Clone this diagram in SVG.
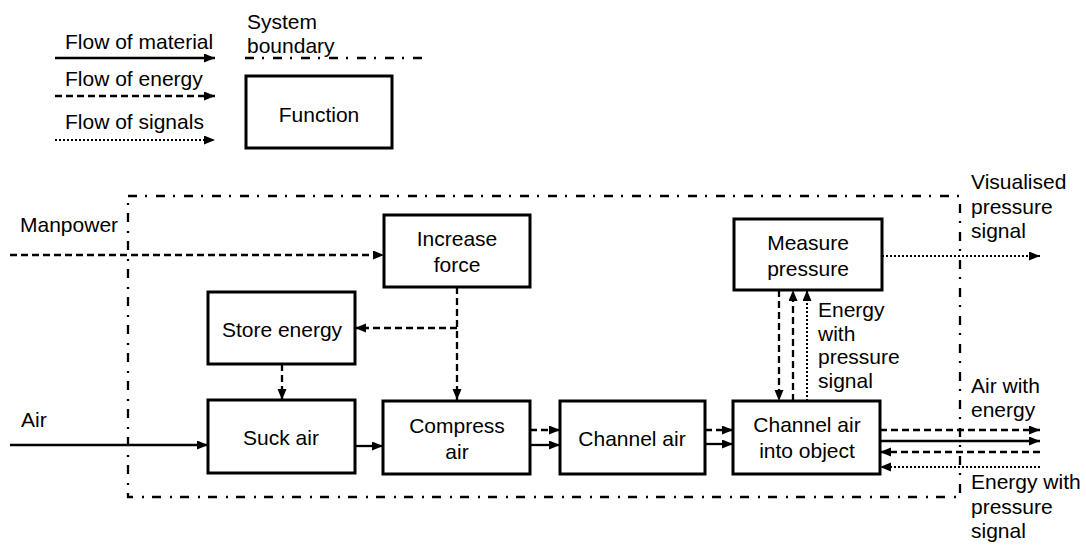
<svg xmlns="http://www.w3.org/2000/svg" width="1086" height="546" viewBox="0 0 1086 546">
<style>
text{font-family:"Liberation Sans",Arial,sans-serif;font-size:21px;fill:#000}
.c{text-anchor:middle}
.box{fill:#fff;stroke:#000;stroke-width:3}
.mat{fill:none;stroke:#000;stroke-width:2.3}
.en{fill:none;stroke:#000;stroke-width:2.3;stroke-dasharray:7 4}
.sig{fill:none;stroke:#000;stroke-width:2;stroke-dasharray:2 2}
.bnd{fill:none;stroke:#000;stroke-width:2.3;stroke-dasharray:9 8 2 9}
</style>
<defs>
<marker id="ah" markerUnits="userSpaceOnUse" markerWidth="12" markerHeight="10" refX="11" refY="4.5" orient="auto">
<path d="M0,0 L11,4.5 L0,9 z" fill="#000"/>
</marker>
</defs>
<g id="legend">
<text x="65" y="49">Flow of material</text>
<text x="65" y="86">Flow of energy</text>
<text x="65" y="129">Flow of signals</text>
<text x="247" y="29">System</text>
<text x="247" y="53">boundary</text>
<line class="mat" x1="55" y1="58" x2="215" y2="58" marker-end="url(#ah)"/>
<line class="en" x1="55" y1="96" x2="215" y2="96" marker-end="url(#ah)"/>
<line class="sig" x1="55" y1="140" x2="215" y2="140" marker-end="url(#ah)"/>
<line class="bnd" x1="245" y1="58" x2="426" y2="58"/>
</g>
<g id="legend-function">
<rect class="box" x="246" y="76" width="146" height="72"/>
<text class="c" x="319" y="122">Function</text>
</g>
<g id="boundary">
<rect class="bnd" x="128" y="196" width="832" height="301"/>
</g>
<g id="connectors">
<line class="en" x1="10" y1="255" x2="384" y2="255" marker-end="url(#ah)"/>
<line class="en" x1="457" y1="287" x2="457" y2="400" marker-end="url(#ah)"/>
<line class="en" x1="457" y1="328" x2="355" y2="328" marker-end="url(#ah)"/>
<line class="en" x1="282" y1="364" x2="282" y2="400" marker-end="url(#ah)"/>
<line class="mat" x1="10" y1="445" x2="208" y2="445" marker-end="url(#ah)"/>
<line class="mat" x1="355" y1="446" x2="383" y2="446" marker-end="url(#ah)"/>
<line class="en" x1="530" y1="430" x2="560" y2="430" marker-end="url(#ah)"/>
<line class="mat" x1="530" y1="445" x2="560" y2="445" marker-end="url(#ah)"/>
<line class="en" x1="705" y1="430" x2="733" y2="430" marker-end="url(#ah)"/>
<line class="mat" x1="705" y1="444" x2="733" y2="444" marker-end="url(#ah)"/>
<line class="en" x1="880" y1="430" x2="1040" y2="430" marker-end="url(#ah)"/>
<line class="mat" x1="880" y1="441" x2="1040" y2="441" marker-end="url(#ah)"/>
<line class="en" x1="1040" y1="452" x2="880" y2="452" marker-end="url(#ah)"/>
<line class="sig" x1="1040" y1="467" x2="880" y2="467" marker-end="url(#ah)"/>
<line class="sig" x1="882" y1="256" x2="1040" y2="256" marker-end="url(#ah)"/>
<line class="en" x1="779" y1="290" x2="779" y2="401" marker-end="url(#ah)"/>
<line class="en" x1="793" y1="401" x2="793" y2="290" marker-end="url(#ah)"/>
<line class="sig" x1="807" y1="401" x2="807" y2="290" marker-end="url(#ah)"/>
</g>
<g id="labels">
<text x="20" y="232">Manpower</text>
<text x="21" y="427">Air</text>
<text x="818" y="317">Energy</text>
<text x="818" y="341">with</text>
<text x="818" y="364">pressure</text>
<text x="818" y="388">signal</text>
<text x="971" y="189">Visualised</text>
<text x="971" y="214">pressure</text>
<text x="971" y="238">signal</text>
<text x="971" y="393">Air with</text>
<text x="971" y="417">energy</text>
<text x="971" y="489">Energy with</text>
<text x="971" y="514">pressure</text>
<text x="971" y="538">signal</text>
</g>
<g id="increase-force">
<rect class="box" x="384" y="215" width="146" height="72"/>
<text class="c" x="457" y="246">Increase</text>
<text class="c" x="457" y="272">force</text>
</g>
<g id="store-energy">
<rect class="box" x="208" y="292" width="147" height="72"/>
<text class="c" x="282" y="337">Store energy</text>
</g>
<g id="suck-air">
<rect class="box" x="208" y="400" width="147" height="73"/>
<text class="c" x="281" y="445">Suck air</text>
</g>
<g id="compress-air">
<rect class="box" x="383" y="401" width="147" height="73"/>
<text class="c" x="457" y="433">Compress</text>
<text class="c" x="457" y="459">air</text>
</g>
<g id="channel-air">
<rect class="box" x="560" y="401" width="145" height="73"/>
<text class="c" x="632" y="446">Channel air</text>
</g>
<g id="channel-air-into-object">
<rect class="box" x="733" y="401" width="147" height="73"/>
<text class="c" x="807" y="432">Channel air</text>
<text class="c" x="807" y="458">into object</text>
</g>
<g id="measure-pressure">
<rect class="box" x="734" y="219" width="148" height="71"/>
<text class="c" x="808" y="250">Measure</text>
<text class="c" x="808" y="276">pressure</text>
</g>
</svg>
